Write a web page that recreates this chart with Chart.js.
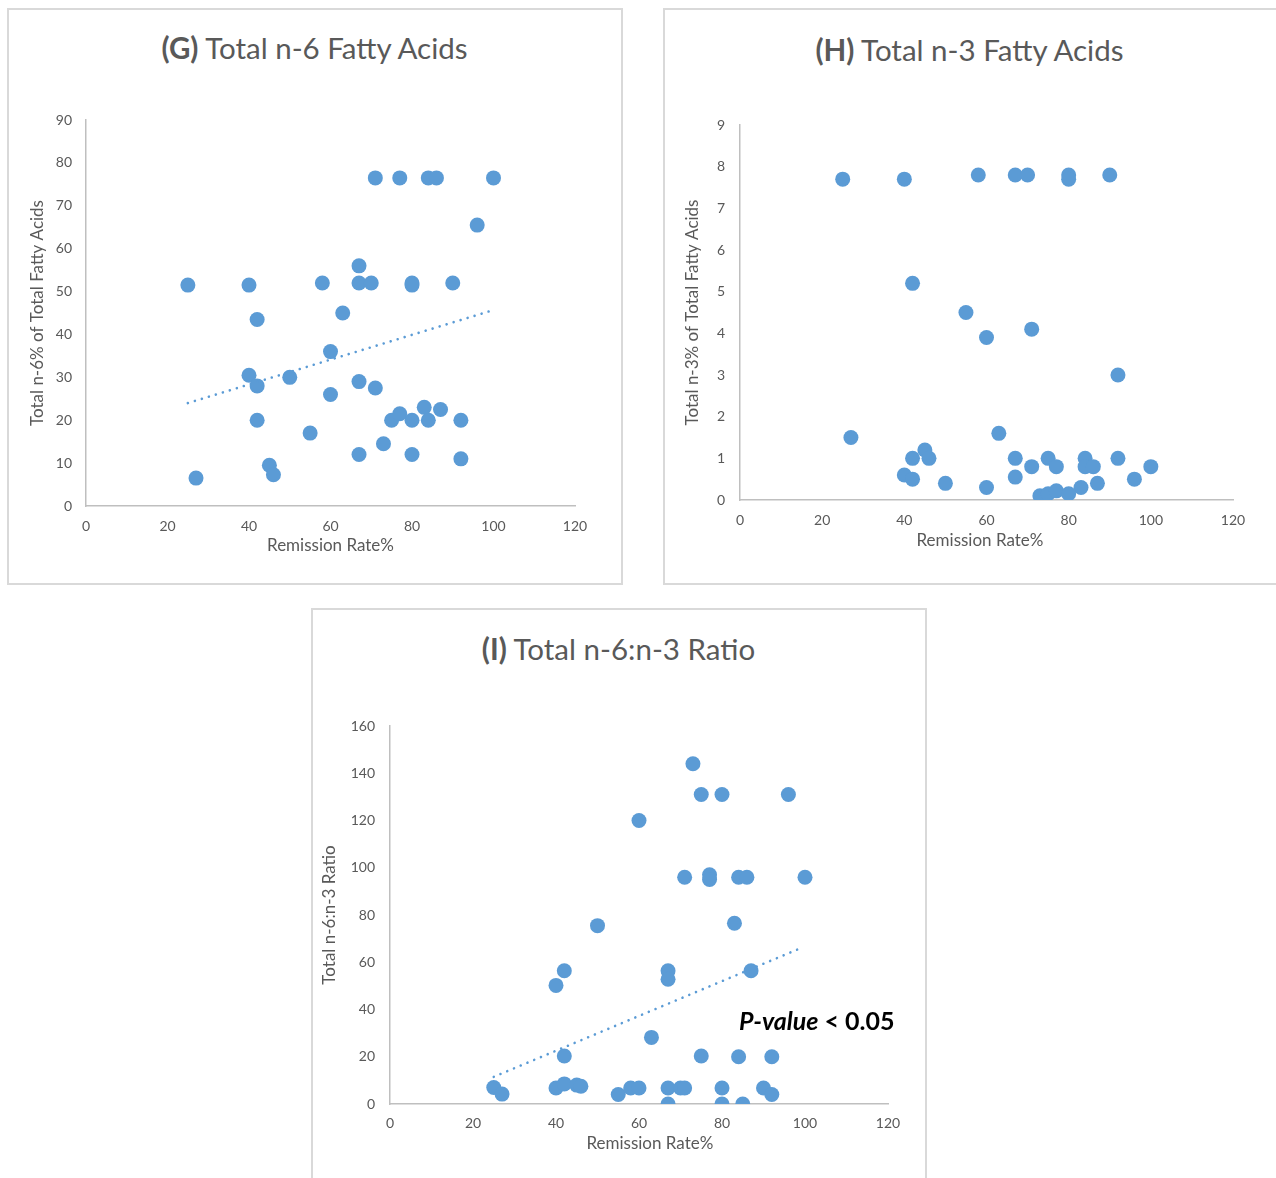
<!DOCTYPE html>
<html><head><meta charset="utf-8">
<script src="https://cdn.jsdelivr.net/npm/chart.js@4.4.0/dist/chart.umd.min.js"></script>
<style>
html,body{margin:0;padding:0;background:#fff;overflow:hidden;width:1276px;height:1178px;position:relative;}
.box{position:absolute;box-sizing:border-box;border:2px solid #d9d9d9;background:#fff;}
canvas{position:absolute;}
.title{position:absolute;text-align:center;font-family:Lato,"Open Sans",sans-serif;color:#595959;font-size:29.5px;line-height:34px;white-space:nowrap;}
.title b{font-weight:700}
.pval{position:absolute;font-family:Lato,"Open Sans",sans-serif;font-weight:700;color:#000;font-size:25px;line-height:30px;white-space:nowrap;}
</style></head><body>
<div class="box" style="left:7px;top:8px;width:616px;height:577px;"></div>
<div class="box" style="left:663px;top:8px;width:630px;height:577px;"></div>
<div class="box" style="left:311px;top:608px;width:616px;height:590px;"></div>
<div class="title" style="left:7px;top:31px;width:615px;"><b>(G)</b> Total n-6 Fatty Acids</div>
<div class="title" style="left:663px;top:33px;width:613px;"><b>(H)</b> Total n-3 Fatty Acids</div>
<div class="title" style="left:311px;top:632px;width:615px;"><b>(I)</b> Total n-6:n-3 Ratio</div>
<canvas id="cG" width="615" height="576" style="left:7px;top:8px;"></canvas>
<canvas id="cH" width="620" height="576" style="left:663px;top:8px;"></canvas>
<canvas id="cI" width="615" height="570" style="left:311px;top:608px;"></canvas>
<div class="pval" style="left:739px;top:1005px;"><i>P-value</i> &lt; 0.05</div>
<script>
// ---------- data ----------
const xTicks = [0, 20, 40, 60, 80, 100, 120];

// (G) Total n-6 Fatty Acids
const remissionG = [25,27,40,40,42,42,42,45,46,50,55,58,60,60,63,67,67,67,67,70,71,71,73,75,77,77,80,80,80,80,83,84,84,86,87,90,92,92,96,100];
const n6Values   = [51.5,6.5,51.5,30.5,43.5,28,20,9.5,7.3,30,17,52,36,26,45,56,52,29,12,52,76.5,27.5,14.5,20,21.5,76.5,52,51.5,20,12,23,20,76.5,76.5,22.5,52,20,11,65.5,76.5];
const trendGx = [25, 99];
const trendGy = [24, 45.4];
const yTicksG = [0,10,20,30,40,50,60,70,80,90];

// (H) Total n-3 Fatty Acids
const remissionH = [25,40,58,67,70,80,80,90,42,55,60,71,92,27,63,45,42,46,67,75,84,92,71,77,84,86,100,40,42,50,60,67,83,87,96,73,75,77,80];
const n3Values   = [7.7,7.7,7.8,7.8,7.8,7.8,7.7,7.8,5.2,4.5,3.9,4.1,3.0,1.5,1.6,1.2,1.0,1.0,1.0,1.0,1.0,1.0,0.8,0.8,0.8,0.8,0.8,0.6,0.5,0.4,0.3,0.55,0.3,0.4,0.5,0.1,0.15,0.22,0.15];
const yTicksH = [0,1,2,3,4,5,6,7,8,9];

// (I) Total n-6:n-3 Ratio
const remissionI = [73,75,80,96,60,71,77,77,84,86,100,50,83,42,40,67,67,87,63,42,75,84,92,25,27,40,42,45,46,55,58,60,67,67,70,71,80,80,85,90,92];
const ratioValues = [144,131,131,131,120,96,97,95,96,96,96,75.5,76.5,56.4,50.2,56.4,52.8,56.4,28.2,20.3,20.3,20,20,7,4.2,6.8,8.5,8,7.5,4,6.8,6.8,6.8,0,6.8,6.8,6.8,0,0,6.8,4];
const trendIx = [25, 99];
const trendIy = [11.5, 66];
const yTicksI = [0,20,40,60,80,100,120,140,160];

// ---------- drawing ----------
const FONT = 'Lato, "Open Sans", sans-serif';
const GREY = '#595959';
const BLUE = '#5b9bd5';
const AXIS = '#bfbfbf';
const X_TITLE = 'Remission Rate%';

function pts(xs, ys){ return xs.map((x,i)=>({x:x, y:ys[i]})); }

function makeChart(id, xs, ys, tx, ty, yTicks, yTitle, g){
  const datasets = [];
  if (tx) datasets.push({
    data: pts(tx, ty), showLine: true, pointRadius: 0, borderColor: BLUE,
    borderWidth: 2.6, borderDash: [0.01, 7.3], borderCapStyle: 'round', fill: false
  });
  datasets.push({
    data: pts(xs, ys), pointRadius: 7.5, pointHoverRadius: 7.5,
    backgroundColor: BLUE, borderWidth: 0, pointBorderWidth: 0
  });
  return new Chart(document.getElementById(id), {
    type: 'scatter',
    data: { datasets },
    options: {
      responsive: false, animation: false, devicePixelRatio: 1,
      layout: { padding: { left: 0, top: g.top, right: g.right, bottom: 0 } },
      plugins: { legend: { display: false }, tooltip: { enabled: false } },
      scales: {
        x: {
          type: 'linear', min: xTicks[0], max: xTicks[xTicks.length-1],
          afterBuildTicks: s => { s.ticks = xTicks.map(v => ({ value: v })); },
          afterFit: s => { s.height = g.xh; },
          grid: { display: false, drawTicks: false },
          border: { display: true, color: AXIS, width: 1.5 },
          ticks: { autoSkip: false, maxRotation: 0, padding: g.xtp, color: GREY, font: { family: FONT, size: 14 } },
          title: { display: true, text: g.pre + X_TITLE + g.post, color: GREY, font: { family: FONT, size: 17 }, padding: { top: 0, bottom: g.xtb } }
        },
        y: {
          type: 'linear', min: yTicks[0], max: yTicks[yTicks.length-1],
          afterBuildTicks: s => { s.ticks = yTicks.map(v => ({ value: v })); },
          afterFit: s => { s.width = g.yw; },
          grid: { display: false, drawTicks: false },
          border: { display: true, color: AXIS, width: 1.5 },
          ticks: { autoSkip: false, padding: g.ytp, color: GREY, font: { family: FONT, size: 14 } },
          title: { display: true, text: yTitle, color: GREY, font: { family: FONT, size: 17 }, padding: { top: g.ytt, bottom: 0 } }
        }
      }
    }
  });
}

makeChart('cG', remissionG, n6Values, trendGx, trendGy, yTicksG, 'Total n-6% of Total Fatty Acids',
  { top: 112, right: 47, yw: 79, xh: 78, xtp: 12, xtb: 28, ytp: 14, ytt: 20, pre: '', post: '' });
makeChart('cH', remissionH, n3Values, null, null, yTicksH, 'Total n-3% of Total Fatty Acids',
  { top: 117, right: 50, yw: 77, xh: 84, xtp: 12, xtb: 33, ytp: 15, ytt: 19, pre: '', post: '   ' });
makeChart('cI', remissionI, ratioValues, trendIx, trendIy, yTicksI, 'Total n-6:n-3 Ratio',
  { top: 118, right: 38, yw: 79, xh: 74, xtp: 11, xtb: 24, ytp: 15, ytt: 8, pre: '     ', post: '' });
</script>
</body></html>
